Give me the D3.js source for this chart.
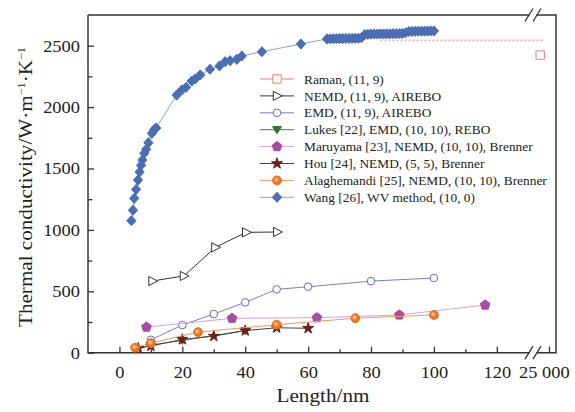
<!DOCTYPE html>
<html>
<head>
<meta charset="utf-8">
<script src="https://cdn.jsdelivr.net/npm/d3@7"></script>
<style>
  body { margin: 0; background: #fff; }
  text { font-family: "Liberation Serif", "Times New Roman", serif; fill: #222; }
</style>
</head>
<body>
<div id="chart"></div>
<script>
// values (length in nm, conductivity in W/(m·K))
const ramanL = [24500], ramanK = [2424];
const ramanRefL = [83, 24650], ramanRefK = 2545;
const nemdL = [10.5, 20.5, 30.5, 40.3, 50.2];
const nemdK = [584, 625, 858, 980, 983];
const emdL = [10, 20, 30, 40, 50, 60, 80, 100];
const emdK = [105, 225, 315, 410, 516, 537, 583, 608];
const lukesL = [5, 10, 20, 40];
const lukesK = [28, 62, 100, 180];
const maruL = [8.6, 35.8, 62.8, 89, 116.3];
const maruK = [208, 280, 285, 307, 388];
const houL = [6, 10, 20, 30, 40, 50, 60];
const houK = [36, 55, 108, 135, 180, 203, 199];
const alagL = [5, 10, 25, 50, 75, 100];
const alagK = [41, 78, 168, 228, 281, 307];
const wangL = [3.8, 4.3, 4.7, 5.3, 5.9, 6.4, 6.9, 7.3, 7.9, 8.5, 9.2, 10.3, 11.1, 11.7,
  18.2, 19.8, 21.2, 23.0, 24.1, 25.7, 28.8, 31.8, 33.6, 35.2, 37.3, 38.9, 45.3, 57.7,
  66, 67, 68, 69, 70, 71, 72, 73, 74, 75, 76, 77,
  78, 79, 80, 81, 82, 83, 84, 85, 86, 87, 88, 89, 90, 91,
  92, 93, 94, 95, 96, 97, 98, 99, 100];
const wangK = [1075, 1160, 1257, 1330, 1406, 1471, 1526, 1569, 1624, 1656, 1710, 1786, 1819, 1830,
  2098, 2139, 2161, 2213, 2229, 2262, 2308, 2335, 2370, 2378, 2389, 2416, 2451, 2514,
  2555, 2556, 2557, 2557, 2558, 2558, 2559, 2559, 2560, 2560, 2561, 2565,
  2590, 2592, 2594, 2595, 2595, 2596, 2596, 2597, 2597, 2598, 2598, 2599, 2600, 2605,
  2615, 2616, 2617, 2618, 2618, 2619, 2619, 2620, 2620];

const xMajor = [0, 20, 40, 60, 80, 100, 120];
const xMinor = [10, 30, 50, 70, 90, 110];
const yMajor = [0, 500, 1000, 1500, 2000, 2500];
const yMinor = [250, 750, 1250, 1750, 2250];

const W = 575, H = 412;
const padL = 88, padR = 556, padT = 15, padB = 352.7, brk = 533;

const svg = d3.select("#chart").append("svg")
  .attr("width", W).attr("height", H);

const defs = svg.append("defs");
const grad = defs.append("radialGradient").attr("id", "orb")
  .attr("fx", "0.35").attr("fy", "0.35");
grad.append("stop").attr("offset", "0").attr("stop-color", "#ffe2c4");
grad.append("stop").attr("offset", "0.6").attr("stop-color", "#f07a2a");
grad.append("stop").attr("offset", "1").attr("stop-color", "#e86a18");

const x = d3.scaleLinear().domain([-10, 131]).range([padL, 531.4]);
const x2 = d3.scaleLinear().domain([24000, 25400]).range([531.4, padR]);
const xp = v => v > 1000 ? x2(v) : x(v);
const y = d3.scaleLinear().domain([0, 2750]).range([padB, padT]);

// marker shapes
const shapes = {
  square: s => `M${-s},${-s}H${s}V${s}H${-s}Z`,
  triRight: s => `M${-s * 0.8},${-s}L${s * 1.1},0L${-s * 0.8},${s}Z`,
  triDown: s => `M${-s},${-s * 0.7}L${s},${-s * 0.7}L0,${s * 0.9}Z`,
  diamond: s => `M0,${-s * 1.1}L${s},0L0,${s * 1.1}L${-s},0Z`,
  star: s => d3.symbol(d3.symbolStar, s * s * 2.6)(),
  circle: s => d3.symbol(d3.symbolCircle, Math.PI * s * s)(),
  pentagon: s => {
    const r = s * 1.15, pts = [];
    for (let i = 0; i < 5; i++) {
      const a = -Math.PI / 2 + i * 2 * Math.PI / 5;
      pts.push([r * Math.cos(a), r * Math.sin(a)]);
    }
    return "M" + pts.map(p => p.join(",")).join("L") + "Z";
  }
};

const series = [
  { name: "Raman, (11, 9)", L: ramanL, K: ramanK, line: "#f47a72", mark: "square", size: 4.2, fill: "#fff", stroke: "#f47a72" },
  { name: "NEMD, (11, 9), AIREBO", L: nemdL, K: nemdK, line: "#333", mark: "triRight", size: 4.6, fill: "#fff", stroke: "#333" },
  { name: "EMD, (11, 9), AIREBO", L: emdL, K: emdK, line: "#7b7bd2", mark: "circle", size: 3.8, fill: "#fff", stroke: "#6a6acb" },
  { name: "Lukes [22], EMD, (10, 10), REBO", L: lukesL, K: lukesK, line: "#3f7d3f", mark: "triDown", size: 4.4, fill: "#2f6f2f", stroke: "#2f6f2f" },
  { name: "Maruyama [23], NEMD, (10, 10), Brenner", L: maruL, K: maruK, line: "#d8a0d8", mark: "pentagon", size: 4.4, fill: "#a64ca2", stroke: "#a64ca2" },
  { name: "Hou [24], NEMD, (5, 5), Brenner", L: houL, K: houK, line: "#4a4040", mark: "star", size: 3.8, fill: "#6e1e1e", stroke: "#6e1e1e" },
  { name: "Alaghemandi [25], NEMD, (10, 10), Brenner", L: alagL, K: alagK, line: "#f59a5a", mark: "circle", size: 4.4, fill: "url(#orb)", stroke: "#e8701e" },
  { name: "Wang [26], WV method, (10, 0)", L: wangL, K: wangK, line: "#86a4dc", mark: "diamond", size: 4.6, fill: "#4a6db5", stroke: "#4a6db5" }
];

// axes: ticks point inward
const fmtTick = g => {
  g.select(".domain").remove();
  g.selectAll(".tick line").attr("stroke", "#333").attr("stroke-width", 1.3);
  g.selectAll(".tick text").style("font-size", "16px").attr("fill", "#333");
};

svg.append("g").attr("transform", `translate(0,${padB})`)
  .call(d3.axisBottom(x).tickValues(xMajor).tickSize(-6).tickFormat(d3.format("d")))
  .call(fmtTick)
  .call(g => g.selectAll(".tick text").attr("y", 25).attr("dy", null).attr("transform", "scale(1.15,1)"));
svg.append("g").attr("transform", `translate(0,${padB})`)
  .call(d3.axisBottom(x).tickValues(xMinor).tickSize(-3.5).tickFormat(""))
  .call(fmtTick);
svg.append("g").attr("transform", `translate(0,${padB})`)
  .call(d3.axisBottom(x2).tickValues([25000]).tickSize(-6).tickFormat(() => "25 000"))
  .call(fmtTick)
  .call(g => g.selectAll(".tick text").attr("y", 25).attr("dy", null).attr("x", -4.5).attr("transform", "scale(1.15,1)"));

svg.append("g").attr("transform", `translate(${padL},0)`)
  .call(d3.axisLeft(y).tickValues(yMajor).tickSize(-6).tickPadding(7).tickFormat(d3.format("d")))
  .call(fmtTick)
  .call(g => g.selectAll(".tick text").attr("dy", "0.34em").attr("transform", "scale(1.15,1)"));
svg.append("g").attr("transform", `translate(${padL},0)`)
  .call(d3.axisLeft(y).tickValues(yMinor).tickSize(-4.5).tickFormat(""))
  .call(fmtTick);

// frame
const frame = svg.append("g").attr("stroke", "#333").attr("stroke-width", 1.5).attr("fill", "none");
frame.append("path").attr("d", `M${padL},${padT}V${padB}H${padR}V${padT}H${padL}`);
[padB, padT].forEach(yy => {
  frame.append("rect").attr("x", brk - 3.5).attr("y", yy - 2).attr("width", 7).attr("height", 4)
    .attr("fill", "#fff").attr("stroke", "none");
  [-4, 4].forEach(dx => {
    frame.append("line")
      .attr("x1", brk + dx - 4).attr("y1", yy + 6.5)
      .attr("x2", brk + dx + 4).attr("y2", yy - 6.5)
      .attr("stroke-width", 1.3);
  });
});

// Raman reference line
svg.append("line")
  .attr("x1", xp(ramanRefL[0])).attr("x2", xp(ramanRefL[1]))
  .attr("y1", y(ramanRefK)).attr("y2", y(ramanRefK))
  .attr("stroke", "#f47a72").attr("stroke-width", 1).attr("stroke-dasharray", "2,2");

const lineGen = d3.line().x(d => xp(d[0])).y(d => y(d[1]));

series.forEach(s => {
  const pts = s.L.map((l, i) => [l, s.K[i]]);
  if (pts.length > 1) {
    svg.append("path").datum(pts)
      .attr("d", lineGen)
      .attr("fill", "none")
      .attr("stroke", s.line)
      .attr("stroke-width", 1);
  }
  svg.append("g").selectAll("path").data(pts).join("path")
    .attr("transform", d => `translate(${xp(d[0])},${y(d[1])})`)
    .attr("d", shapes[s.mark](s.size))
    .attr("fill", s.fill)
    .attr("stroke", s.stroke)
    .attr("stroke-width", 1);
});

// legend
const legend = svg.append("g").attr("transform", "translate(260,79)");
series.forEach((s, i) => {
  const row = legend.append("g").attr("transform", `translate(0,${i * 16.9})`);
  row.append("line").attr("x1", 0).attr("x2", 34).attr("y1", 0).attr("y2", 0)
    .attr("stroke", s.line).attr("stroke-width", 1);
  row.append("path").attr("transform", "translate(17,0)")
    .attr("d", shapes[s.mark](s.size))
    .attr("fill", s.fill).attr("stroke", s.stroke).attr("stroke-width", 1);
  row.append("text").attr("x", 44).attr("y", 4.6)
    .style("font-size", "13.4px").text(s.name);
});

// axis titles
svg.append("text")
  .attr("x", 323).attr("y", 402)
  .attr("text-anchor", "middle")
  .style("font-size", "18px")
  .attr("textLength", 93).attr("lengthAdjust", "spacingAndGlyphs")
  .text("Length/nm");

const yt = svg.append("text")
  .attr("transform", "translate(32,187) rotate(-90)")
  .attr("text-anchor", "middle")
  .style("font-size", "19px")
  .attr("textLength", 280).attr("lengthAdjust", "spacingAndGlyphs");
yt.append("tspan").text("Thermal conductivity/W·m");
yt.append("tspan").attr("dy", -7).style("font-size", "11px").text("−1");
yt.append("tspan").attr("dy", 7).text("·K");
yt.append("tspan").attr("dy", -7).style("font-size", "11px").text("−1");
</script>
</body>
</html>
